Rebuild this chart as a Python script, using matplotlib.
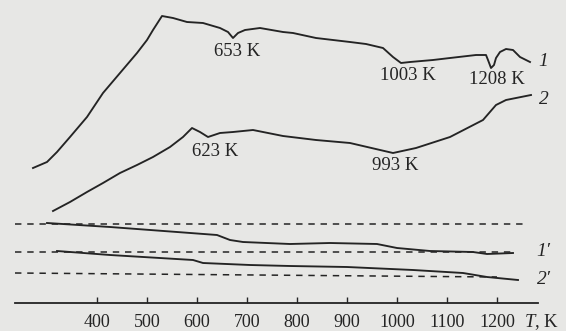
import matplotlib
matplotlib.use("Agg")
import matplotlib.pyplot as plt

# ---- data (temperature in K, signal in arbitrary units) ----
t1 = [272, 300, 320, 346, 380, 412, 446, 480, 500, 512, 530, 552, 580, 612, 646, 662, 672,
      682, 696, 726, 772, 792, 838, 906, 938, 972, 992, 1008, 1026, 1072, 1106, 1158, 1178,
      1182, 1188, 1194, 1198, 1206, 1218, 1232, 1246, 1266]
s1 = [163, 169, 179, 194, 214, 238, 258, 278, 291, 301, 315, 313, 309, 308, 303, 299, 293,
      298, 301, 303, 299, 298, 293, 289, 287, 283, 274, 268, 269, 271, 273, 276, 276,
      271, 263, 266, 273, 279, 282, 281, 274, 269]

t2 = [312, 346, 380, 412, 446, 480, 512, 546, 572, 590, 606, 622, 646, 672, 712, 772, 838,
      906, 992, 1038, 1106, 1172, 1198, 1218, 1238, 1268]
s2 = [120, 129, 139, 148, 158, 166, 174, 184, 194, 203, 199, 194, 198, 199, 201, 195, 191,
      188, 178, 183, 194, 211, 226, 231, 233, 236]

t1p = [300, 426, 560, 640, 666, 692, 786, 866, 960, 1000, 1066, 1152, 1180, 1232]
s1p = [108, 104, 99, 96, 91, 89, 87, 88, 87, 83, 80, 79, 77, 78]

t2p = [320, 426, 592, 612, 706, 786, 900, 1032, 1132, 1180, 1242]
s2p = [80, 76, 71, 68, 66, 65, 64, 61, 58, 54, 51]

# dashed baselines: (start T, end T, start value, end value)
base_t0 = [236, 236, 236]
base_t1 = [1260, 1232, 1200]
base_v0 = [107, 79, 58]
base_v1 = [107, 79, 54]

peak_labels = ["653 K", "623 K", "1003 K", "1208 K", "993 K"]
peak_lab_t = [680, 636, 1022, 1200, 996]
peak_lab_v = [279, 179, 256, 251, 165]

curve_names = ["1", "2", "1\u2032", "2\u2032"]
curve_name_t = [1282, 1284, 1278, 1280]
curve_name_v = [269, 231, 79, 52]

ticks = [400, 500, 600, 700, 800, 900, 1000, 1100, 1200]

# ---- style ----
bg = "#e7e7e5"
ink = "#242424"
plt.rcParams["mathtext.fontset"] = "custom"
plt.rcParams["mathtext.rm"] = "Liberation Serif"
plt.rcParams["mathtext.it"] = "Liberation Serif:italic"

fig = plt.figure(figsize=(5.66, 3.31), dpi=100)
fig.patch.set_facecolor(bg)
ax = fig.add_axes([0, 0, 1, 1])
ax.set_facecolor(bg)
ax.set_xlim(206, 1338)
ax.set_ylim(0, 331)

lw = 1.35
ax.plot(t1, s1, color=ink, lw=lw)
ax.plot(t2, s2, color=ink, lw=lw)
ax.plot(t1p, s1p, color=ink, lw=lw)
ax.plot(t2p, s2p, color=ink, lw=lw)
for a, b, c, d in zip(base_t0, base_t1, base_v0, base_v1):
    ax.plot([a, b], [c, d], color=ink, lw=1.1, dashes=(4.2, 3.8))

for lab, x, y in zip(peak_labels, peak_lab_t, peak_lab_v):
    ax.text(x, y, lab, ha="center", va="center", fontsize=13.5,
            family="Liberation Serif", color=ink)
for lab, x, y in zip(curve_names, curve_name_t, curve_name_v):
    ax.text(x, y, lab, ha="left", va="center", fontsize=14, style="italic",
            family="Liberation Serif", color=ink)

for s in ["left", "right", "top"]:
    ax.spines[s].set_visible(False)
ax.spines["bottom"].set_position(("data", 28))
ax.spines["bottom"].set_bounds(236, 1282)
ax.spines["bottom"].set_color(ink)
ax.spines["bottom"].set_linewidth(1.3)
ax.set_yticks([])
ax.set_xticks(ticks)
ax.set_xticklabels([str(t) for t in ticks], family="Liberation Serif")
ax.tick_params(axis="x", direction="in", length=4, width=1, colors=ink,
               labelsize=13, pad=8)
ax.text(1254, 9, r"$\mathit{T}$, K", ha="left", va="center", fontsize=13.5,
        family="Liberation Serif", color=ink)

fig.savefig("out.png", dpi=100, facecolor=bg)
